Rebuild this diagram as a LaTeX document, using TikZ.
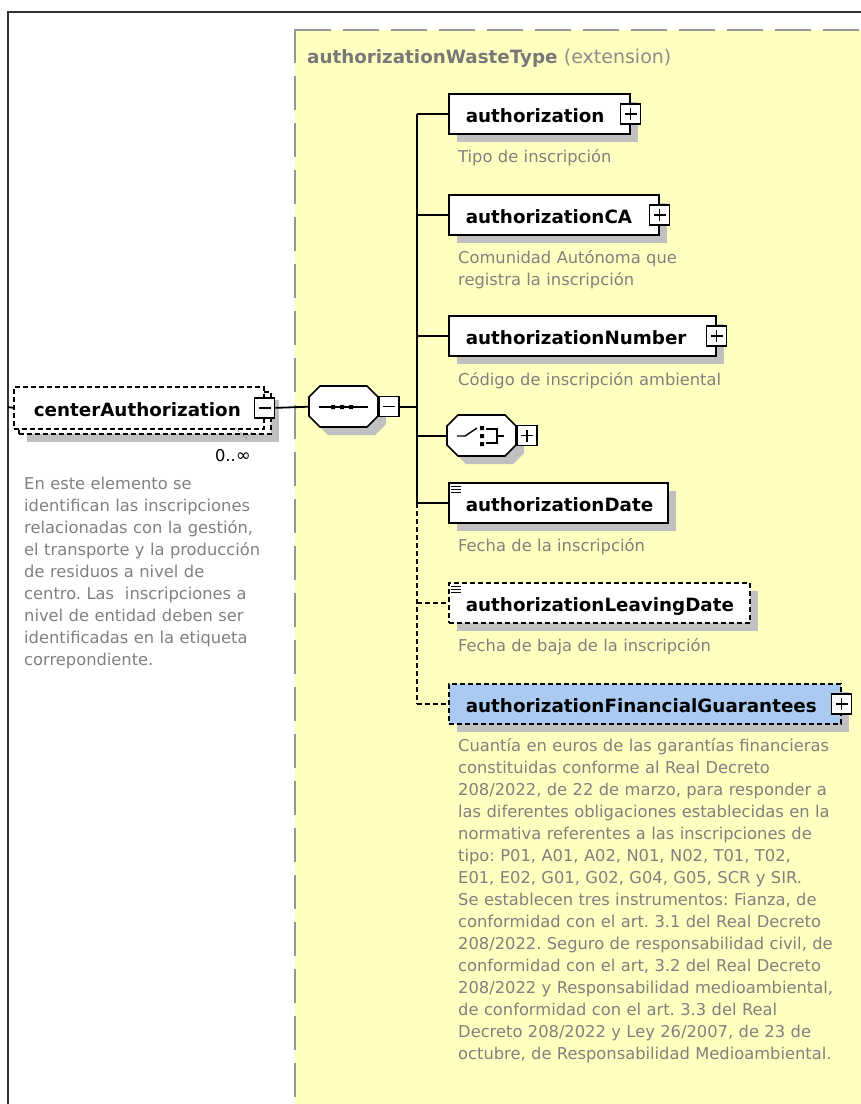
\documentclass[tikz,border=0pt]{standalone}
\usepackage{fontspec}
\setmainfont{DejaVu Sans}
\usetikzlibrary{shadows}
\frenchspacing
\definecolor{ylw}{RGB}{255,255,192}
\definecolor{shd}{RGB}{192,192,192}
\definecolor{dsc}{RGB}{128,128,128}
\definecolor{ttl}{RGB}{120,120,120}
\definecolor{ext}{RGB}{140,140,140}
\definecolor{blu}{RGB}{170,202,242}
\definecolor{dgr}{RGB}{150,150,150}
\definecolor{brd}{RGB}{50,50,50}
\newcommand\efont{\fontsize{18.3}{22}\selectfont\bfseries}
\newcommand\dfont{\fontsize{16.3}{22}\selectfont}
\newcommand\lbl[2]{\makebox[#1][l]{\hspace*{17pt}#2}}
\newcommand\octo[4]{%
 \fill[shd] (#1+19,#2+8) -- (#3-3,#2+8) -- (#3+8,#2+19) -- (#3+8,#4-3) -- (#3-3,#4+8) -- (#1+19,#4+8) -- (#1+8,#4-3) -- (#1+8,#2+19) -- cycle;
 \draw[line width=1.7pt, fill=white] (#1+11,#2) -- (#3-11,#2) -- (#3,#2+11) -- (#3,#4-11) -- (#3-11,#4) -- (#1+11,#4) -- (#1,#4-11) -- (#1,#2+11) -- cycle;}
\newcommand\lines[2]{%
 \draw[line width=1pt] (#1,#2+4) -- (#1+10,#2+4) (#1,#2+7) -- (#1+10,#2+7) (#1,#2+10) -- (#1+10,#2+10);}
\tikzset{
 ebox/.style={draw=black, line width=1.7pt, fill=white, anchor=north west, minimum height=40pt, inner sep=0pt, text height=18pt, text depth=0pt, font=\efont},
 dsh/.style={dash pattern=on 5pt off 3pt},
 sbox/.style={ebox, drop shadow={shadow xshift=8pt, shadow yshift=-8pt, fill=shd, opacity=1}},
 pm/.style={draw=black, line width=1.3pt, fill=white, minimum size=20pt, inner sep=0pt},
 plusbox/.style={pm, path picture={\draw[line width=1.4pt] ([xshift=-6pt]path picture bounding box.center) -- ([xshift=6pt]path picture bounding box.center) ([yshift=-6pt]path picture bounding box.center) -- ([yshift=6pt]path picture bounding box.center);}},
 minusbox/.style={pm, path picture={\draw[line width=1.4pt] ([xshift=-6pt]path picture bounding box.center) -- ([xshift=6pt]path picture bounding box.center);}},
 conn/.style={line width=1.8pt, draw=black},
 desc/.style={anchor=north west, inner sep=0pt, align=left, text width=400pt, font=\dfont, text=dsc},
 hook/.style={anchor=north west, inner sep=0pt, minimum width=69pt, minimum height=41pt}
}
\begin{document}
\begin{tikzpicture}[x=1pt, y=-1pt, line join=miter]
\useasboundingbox (0,0) rectangle (861,1104);
% outer frame
\draw[line width=1.5pt, brd] (8,1104) -- (8,12) -- (861,12);
% extension area
\fill[ylw] (295,30) rectangle (861,1104);
\draw[line width=2pt, dgr, dash pattern=on 34pt off 13pt] (295,29) -- (295,1104);
\draw[line width=2pt, dgr, dash pattern=on 36pt off 12pt] (295,30) -- (861,30);
\node[anchor=base west, inner sep=0pt, text=ttl] (title) at (307,63) {\efont authorizationWasteType\ {\fontsize{19}{22}\selectfont\mdseries\color{ext}(extension)}};

% root element
\node[sbox, dsh, minimum width=252pt, minimum height=42pt] (caback) at (18,391) {};
\node[ebox, dsh, minimum height=42pt] (ca) at (13,386) {\makebox[250pt][l]{\hspace*{20pt}centerAuthorization}};
\node[minusbox] (cam) at (ca.east) {};
\coordinate (inL) at (8,407);
\draw[conn] (inL) -- (ca.west);
\draw[line width=0.8pt, dgr, dash pattern=on 2pt off 1.5pt] (235,428) -- (246,438) -- (252,432);
\node[anchor=base east, inner sep=0pt, font=\dfont, text=black] (occ) at (251,461) {0..{\fontsize{18}{22}\selectfont ∞}};
\node[desc] (cadesc) at (24,474) {\strut En este elemento se\\identifican las inscripciones\\relacionadas con la gestión,\\el transporte y la producción\\de residuos a nivel de\\centro. Las~ inscripciones a\\nivel de entidad deben ser\\identificadas en la etiqueta\\correpondiente.};

% sequence
\octo{309}{386}{378}{427}
\node[hook] (seq) at (309,386) {};
\draw[line width=1.4pt] (319,407) -- (368,407);
\fill (331,405) rectangle (335,409) (340,405) rectangle (344,409) (349,405) rectangle (353,409);
\node[minusbox, anchor=west] (seqm) at (seq.east) {};
\draw[conn] (cam.east) -- (seq.west);
\coordinate (tx) at (417,0);

% children
\node[sbox] (auth) at (448,93) {\lbl{181pt}{authorization}};
\node[plusbox] (authp) at (auth.east) {};
\node[desc] (authd) at (458,146.6) {\strut Tipo de inscripción};

\node[sbox] (aca) at (448,194) {\lbl{210pt}{authorizationCA}};
\node[plusbox] (acap) at (aca.east) {};
\node[desc] (acad) at (458,247.6) {\strut Comunidad Autónoma que\\registra la inscripción};

\node[sbox] (anum) at (448,315) {\lbl{267pt}{authorizationNumber}};
\node[plusbox] (anump) at (anum.east) {};
\node[desc] (anumd) at (458,369.6) {\strut Código de inscripción ambiental};

\octo{447}{415}{516}{456}
\node[hook] (cho) at (447,415) {};
\draw[line width=1.4pt] (457,436) -- (465,436) -- (477,428);
\fill (480,426) rectangle (484,430) (480,434) rectangle (484,438) (480,442) rectangle (484,446);
\draw[line width=1.4pt] (486,429) -- (497,429) -- (497,443) -- (486,443) (497,436) -- (504,436);
\node[plusbox, anchor=west] (chop) at (cho.east) {};

\node[sbox] (adate) at (448,482) {\lbl{219pt}{authorizationDate}};
\lines{451}{482}
\node[desc] (adated) at (458,536) {\strut Fecha de la inscripción};

\node[sbox, dsh] (aleave) at (448,582) {\lbl{301pt}{authorizationLeavingDate}};
\lines{451}{582}
\node[desc] (aleaved) at (458,635.6) {\strut Fecha de baja de la inscripción};

\node[sbox, dsh, fill=blu] (afin) at (448,683) {\lbl{392pt}{authorizationFinancialGuarantees}};
\node[plusbox] (afinp) at (afin.east) {};
\node[desc] (afind) at (458,736) {\strut Cuantía en euros de las garantías financieras\\constituidas conforme al Real Decreto\\208/2022, de 22 de marzo, para responder a\\las diferentes obligaciones establecidas en la\\normativa referentes a las inscripciones de\\tipo: P01, A01, A02, N01, N02, T01, T02,\\E01, E02, G01, G02, G04, G05, SCR y SIR.\\Se establecen tres instrumentos: Fianza, de\\conformidad con el art. 3.1 del Real Decreto\\208/2022. Seguro de responsabilidad civil, de\\conformidad con el art, 3.2 del Real Decreto\\208/2022 y Responsabilidad medioambiental,\\de conformidad con el art. 3.3 del Real\\Decreto 208/2022 y Ley 26/2007, de 23 de\\octubre, de Responsabilidad Medioambiental.};

% trunk and branches
\draw[conn] (seqm.east) -- (tx |- seqm.east);
\draw[conn] (tx |- auth.west) -- (tx |- adate.west);
\draw[conn, dsh] (tx |- adate.west) -- (tx |- afin.west);
\draw[conn] (tx |- auth.west) -- (auth.west);
\draw[conn] (tx |- aca.west) -- (aca.west);
\draw[conn] (tx |- anum.west) -- (anum.west);
\draw[conn] (tx |- cho.west) -- (cho.west);
\draw[conn] (tx |- adate.west) -- (adate.west);
\draw[conn, dsh] (tx |- aleave.west) -- (aleave.west);
\draw[conn, dsh] (tx |- afin.west) -- (afin.west);
\end{tikzpicture}
\end{document}
